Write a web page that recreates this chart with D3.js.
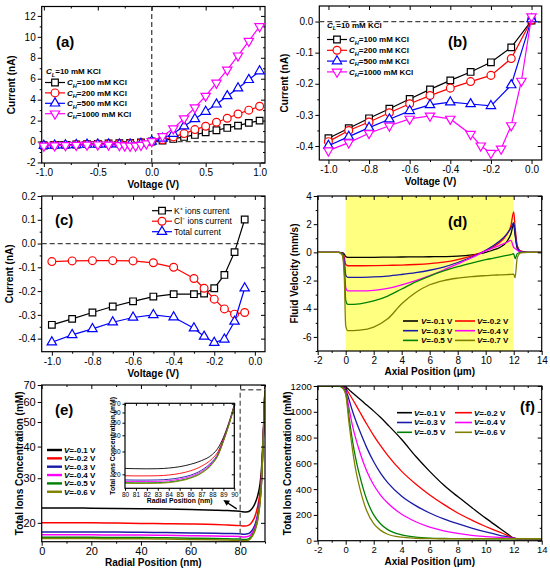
<!DOCTYPE html>
<html>
<head>
<meta charset="utf-8">
<script src="https://cdn.jsdelivr.net/npm/d3@7"></script>
<style>
  body { margin: 0; background: #fff; }
</style>
</head>
<body>
<svg id="fig" width="550" height="571"></svg>
<script>
// ---------------- data ----------------
// (a)/(b) I-V curves, CL = 10 mM KCl
const voltAB = [-1.0,-0.9,-0.8,-0.7,-0.6,-0.5,-0.4,-0.3,-0.2,-0.1,0.0,0.1,0.2,0.3,0.4,0.5,0.6,0.7,0.8,0.9,1.0];
const voltAB1000 = [-1.0,-0.9,-0.8,-0.7,-0.6,-0.5,-0.4,-0.3,-0.25,-0.2,-0.15,-0.1,-0.05,0.0,0.1,0.2,0.3,0.4,0.5,0.6,0.7,0.8,0.9,1.0];
const curCH100 = [-0.375,-0.343,-0.311,-0.28,-0.249,-0.218,-0.189,-0.162,-0.131,-0.083,0.003,0.1,0.25,0.44,0.63,0.89,1.08,1.3,1.52,1.78,2.0];
const curCH200 = [-0.386,-0.35,-0.323,-0.293,-0.264,-0.238,-0.214,-0.193,-0.173,-0.119,0.005,0.16,0.44,0.76,1.14,1.46,1.84,2.22,2.63,3.0,3.37];
const curCH500 = [-0.399,-0.37,-0.341,-0.314,-0.287,-0.268,-0.259,-0.265,-0.271,-0.204,0.008,0.29,0.76,1.46,2.16,2.86,3.56,4.35,5.1,5.9,6.73];
const curCH1000 = [-0.415,-0.389,-0.359,-0.335,-0.313,-0.303,-0.313,-0.362,-0.399,-0.423,-0.409,-0.334,-0.191,0.016,0.5,1.24,2.2,3.24,4.35,5.6,6.85,8.2,9.6,11.0];
const chLabels = ['100', '200', '500', '1000'];

// (c) ionic current components, CH = 1000 mM
const voltC = [-1.0,-0.9,-0.8,-0.7,-0.6,-0.5,-0.4,-0.3,-0.25,-0.2,-0.15,-0.1,-0.05];
const curK = [-0.342,-0.317,-0.29,-0.265,-0.243,-0.223,-0.213,-0.213,-0.21,-0.188,-0.132,-0.036,0.101];
const curCl = [-0.076,-0.073,-0.072,-0.072,-0.073,-0.081,-0.1,-0.147,-0.188,-0.234,-0.275,-0.297,-0.29];
const curTotal = [-0.415,-0.384,-0.359,-0.331,-0.311,-0.3,-0.31,-0.356,-0.391,-0.417,-0.403,-0.328,-0.188];
const ionLabels = ['K\u207A ions current', 'Cl\u207B ions current', 'Total current'];

// (d) fluid velocity along the axis
const posD = [-2,-0.5,-0.25,-0.1,0,0.15,1,2,3,4,5,6,7,8,9,10,10.5,11,11.5,11.8,12,12.1,12.25,12.5,13,14];
const velV01 = [0,0,-0.02,-0.12,-0.3,-0.35,-0.35,-0.35,-0.34,-0.33,-0.32,-0.31,-0.3,-0.27,-0.18,0.0,0.15,0.35,0.75,1.3,2.0,1.2,0.3,0.05,0,0];
const velV02 = [0,0,-0.05,-0.35,-0.85,-0.95,-0.95,-0.94,-0.92,-0.9,-0.86,-0.8,-0.7,-0.52,-0.25,0.12,0.38,0.7,1.25,1.9,2.88,1.8,0.5,0.1,0,0];
const velV03 = [0,0,-0.08,-0.6,-1.6,-1.77,-1.77,-1.74,-1.68,-1.57,-1.44,-1.27,-1.04,-0.72,-0.33,0.15,0.45,0.8,1.3,1.72,2.1,1.4,0.4,0.05,0,0];
const velV04 = [0,0,-0.1,-0.9,-2.5,-2.74,-2.74,-2.7,-2.55,-2.3,-2.0,-1.65,-1.25,-0.82,-0.38,0.1,0.3,0.5,0.7,0.85,0.35,0.28,0.15,0.02,0,0];
const velV05 = [0,0,-0.12,-1.2,-3.4,-3.69,-3.65,-3.45,-3.1,-2.6,-2.1,-1.68,-1.32,-1.02,-0.76,-0.52,-0.42,-0.32,-0.22,-0.16,-0.1,-0.45,-0.1,0,0,0];
const velV07 = [0,0,-0.2,-1.8,-5.2,-5.56,-5.52,-5.3,-4.72,-3.65,-2.85,-2.3,-2.0,-1.83,-1.72,-1.65,-1.62,-1.6,-1.58,-1.56,-1.55,-1.8,-0.4,-0.03,0,0];
const voltLabelsD = ['-0.1', '-0.2', '-0.3', '-0.4', '-0.5', '-0.7'];

// (e) radial total ion concentration (log axis)
const posE = [0,10,20,30,40,50,60,70,75,80,81,82,83,84,85,86,87,88,88.5,89,89.5,90];
const concEV01 = [22.9,22.9,22.85,22.8,22.75,22.7,22.6,22.45,22.35,22.2,22.1,22.05,22.1,22.35,22.9,23.9,25.5,28.5,31.8,38.5,50,69];
const concEV02 = [20.0,20.0,20.0,19.95,19.9,19.85,19.8,19.7,19.6,19.5,19.45,19.45,19.5,19.75,20.3,21.3,23.1,26.5,29.8,37.5,49,68];
const concEV03 = [18.4,18.4,18.4,18.4,18.35,18.3,18.25,18.2,18.15,18.1,18.05,18.05,18.1,18.3,18.8,19.7,21.5,25.2,28.7,36.6,48.5,67.5];
const concEV04 = [17.95,17.95,17.95,17.9,17.9,17.85,17.8,17.75,17.7,17.65,17.6,17.6,17.65,17.85,18.35,19.25,21.0,24.7,28.3,36.3,48.2,67.3];
const concEV05 = [17.55,17.55,17.55,17.5,17.5,17.45,17.4,17.35,17.3,17.25,17.2,17.2,17.25,17.45,17.95,18.85,20.6,24.3,28.0,36.0,48,67];
const concEV06 = [17.35,17.35,17.35,17.3,17.3,17.25,17.2,17.15,17.1,17.05,17.0,17.0,17.05,17.25,17.75,18.65,20.4,24.1,27.8,35.8,47.8,67];
const voltLabelsEF = ['-0.1', '-0.2', '-0.3', '-0.4', '-0.5', '-0.6'];

// (f) axial total ion concentration
const posF = [-2,-0.5,-0.2,0,0.25,0.5,0.75,1,1.5,2,2.5,3,4,5,6,7,8,9,10,11,11.5,12,12.3,13,14];
const concFV01 = [1200,1200,1198,1192,1170,1145,1122,1100,1052,1005,955,900,785,655,538,432,342,258,175,97,58,20,15,15,15];
const concFV02 = [1200,1200,1196,1182,1140,1095,1048,1000,905,815,735,662,538,440,355,282,215,160,110,66,44,22,15,15,15];
const concFV03 = [1200,1200,1194,1170,1090,1000,922,852,722,612,522,450,345,272,215,170,132,98,68,42,31,20,15,15,15];
const concFV04 = [1200,1200,1190,1160,1020,885,780,690,540,432,352,292,205,147,106,77,56,41,32,25,22,18,15,15,15];
const concFV05 = [1200,1200,1185,1145,950,765,620,505,320,200,130,86,45,28,20,17,16,15,15,15,15,15,15,15,15];
const concFV06 = [1200,1200,1180,1135,900,695,530,410,232,132,80,50,27,19,16,15,15,15,15,15,15,15,15,15,15];

// ---------------- style ----------------
const FONT = '"Liberation Sans", Arial, Helvetica, sans-serif';
const COL = { black: '#000000', red: '#ff0000', blue: '#0000ff', navy: '#1a1aa8',
              magenta: '#ff00ff', green: '#008000', olive: '#808000' };
const fmt1 = d => d.toFixed(1);
const fmt0 = d => String(d);

const svg = d3.select('#fig').attr('font-family', FONT);

// ---------------- helpers ----------------
function panel(o) {
  const x = d3.scaleLinear().domain(o.xDom).range([o.left, o.right]);
  const y = (o.yLog ? d3.scaleLog() : d3.scaleLinear()).domain(o.yDom).range([o.bottom, o.top]);
  const root = svg.append('g');
  const cid = 'clip-' + o.name;
  root.append('clipPath').attr('id', cid).append('rect')
    .attr('x', o.left).attr('y', o.top)
    .attr('width', o.right - o.left).attr('height', o.bottom - o.top);
  const bg = root.append('g');
  if (o.white) bg.append('rect').attr('x', o.left).attr('y', o.top)
    .attr('width', o.right - o.left).attr('height', o.bottom - o.top).attr('fill', '#fff');
  const data = root.append('g').attr('clip-path', `url(#${cid})`);
  const axes = root.append('g');
  const over = root.append('g');
  const ts = o.tick || 4, fs = o.font || 10;
  const blank = () => '';
  const mk = (gen, tr) => axes.append('g').attr('transform', tr).call(gen)
    .call(s => s.select('.domain').remove());

  mk(d3.axisBottom(x).tickValues(o.xTicks).tickSize(ts).tickSizeOuter(0).tickPadding(2).tickFormat(o.xFmt || fmt0), `translate(0,${o.bottom})`);
  mk(d3.axisTop(x).tickValues(o.xTicks).tickSize(-ts).tickSizeOuter(0).tickFormat(blank), `translate(0,${o.top})`);
  mk(d3.axisLeft(y).tickValues(o.yTicks).tickSize(ts).tickSizeOuter(0).tickPadding(2).tickFormat(o.yFmt || fmt0), `translate(${o.left},0)`);
  mk(d3.axisRight(y).tickValues(o.yTicks).tickSize(-ts).tickSizeOuter(0).tickFormat(blank), `translate(${o.right},0)`);
  if (o.xMinor) {
    mk(d3.axisBottom(x).tickValues(o.xMinor).tickSize(ts / 2).tickSizeOuter(0).tickFormat(blank), `translate(0,${o.bottom})`);
    mk(d3.axisTop(x).tickValues(o.xMinor).tickSize(-ts / 2).tickSizeOuter(0).tickFormat(blank), `translate(0,${o.top})`);
  }
  if (o.yMinor) {
    mk(d3.axisLeft(y).tickValues(o.yMinor).tickSize(ts / 2).tickSizeOuter(0).tickFormat(blank), `translate(${o.left},0)`);
    mk(d3.axisRight(y).tickValues(o.yMinor).tickSize(-ts / 2).tickSizeOuter(0).tickFormat(blank), `translate(${o.right},0)`);
  }
  axes.selectAll('text').attr('font-size', fs).attr('font-family', FONT).attr('fill', '#000');
  axes.selectAll('line').attr('stroke', '#000').attr('stroke-width', 1);

  axes.append('rect').attr('x', o.left).attr('y', o.top)
    .attr('width', o.right - o.left).attr('height', o.bottom - o.top)
    .attr('fill', 'none').attr('stroke', '#000').attr('stroke-width', 1.2);

  const tf = o.titleFont || 10;
  axes.append('text').attr('x', (o.left + o.right) / 2).attr('y', o.bottom + o.xTitleDy)
    .attr('text-anchor', 'middle').attr('font-size', tf).attr('font-weight', 'bold').text(o.xTitle);
  axes.append('text')
    .attr('transform', `translate(${o.left - o.yTitleDx},${(o.top + o.bottom) / 2}) rotate(-90)`)
    .attr('text-anchor', 'middle').attr('dy', '0.35em').attr('font-size', tf).attr('font-weight', 'bold').text(o.yTitle);
  if (o.tag) over.append('text').attr('x', o.tag[0]).attr('y', o.tag[1])
    .attr('font-size', 15).attr('font-weight', 'bold').text(o.tag[2]);
  return { x, y, bg, data, over };
}

function marker(g, type, cx, cy, color) {
  const kinds = { square: [d3.symbolSquare, 44], circle: [d3.symbolCircle, 48],
                  up: [d3.symbolTriangle, 38], down: [d3.symbolTriangle, 38] };
  const [t, s] = kinds[type];
  g.append('path').attr('d', d3.symbol().type(t).size(s)())
    .attr('transform', `translate(${cx},${cy})${type === 'down' ? ' rotate(180)' : ''}`)
    .attr('fill', '#fff').attr('stroke', color).attr('stroke-width', 1.2);
}

function series(p, xs, ys, color, type, filter) {
  let pts = d3.zip(xs, ys);
  if (filter) pts = pts.filter(filter);
  p.over.append('path').datum(pts)
    .attr('d', d3.line().x(d => p.x(d[0])).y(d => p.y(d[1])))
    .attr('fill', 'none').attr('stroke', color).attr('stroke-width', 1.2);
  pts.forEach(d => marker(p.over, type, p.x(d[0]), p.y(d[1]), color));
}

function curve(p, xs, ys, color, w) {
  p.data.append('path').datum(d3.zip(xs, ys))
    .attr('d', d3.line().curve(d3.curveMonotoneX).x(d => p.x(d[0])).y(d => p.y(d[1])))
    .attr('fill', 'none').attr('stroke', color).attr('stroke-width', w || 1.3);
}

// text with italic symbol + optional subscript
function richText(g, x, y, sym, sub, rest, fs) {
  const t = g.append('text').attr('x', x).attr('y', y).attr('font-size', fs)
    .attr('font-weight', 'bold').attr('dy', '0.35em');
  t.append('tspan').attr('font-style', 'italic').text(sym);
  if (sub) {
    t.append('tspan').attr('font-style', 'italic').attr('font-size', fs * 0.7).attr('dy', fs * 0.3).text(sub);
    t.append('tspan').attr('dy', -fs * 0.3).text(rest);
  } else {
    t.append('tspan').text(rest);
  }
  return t;
}

function legendLine(g, x1, x2, y, color, w, type) {
  g.append('line').attr('x1', x1).attr('x2', x2).attr('y1', y).attr('y2', y)
    .attr('stroke', color).attr('stroke-width', w);
  if (type) marker(g, type, (x1 + x2) / 2, y, color);
}

function zeroLine(p, horiz) {
  const [x0, x1] = p.x.domain(), [y0, y1] = p.y.domain();
  const l = p.over.append('line').attr('stroke', '#444').attr('stroke-width', 1.3).attr('stroke-dasharray', '5,3');
  if (horiz) l.attr('x1', p.x(x0)).attr('x2', p.x(x1)).attr('y1', p.y(0)).attr('y2', p.y(0));
  else l.attr('x1', p.x(0)).attr('x2', p.x(0)).attr('y1', p.y(y0)).attr('y2', p.y(y1));
}

const chSeries = [
  [voltAB, curCH100, COL.black, 'square'],
  [voltAB, curCH200, COL.red, 'circle'],
  [voltAB, curCH500, COL.blue, 'up'],
  [voltAB1000, curCH1000, COL.magenta, 'down']
];

// ---------------- (a) ----------------
const pa = panel({
  name: 'a', left: 41.7, right: 265, top: 6.5, bottom: 163,
  xDom: [-1.02, 1.05], yDom: [-2.05, 12.9],
  xTicks: [-1, -0.5, 0, 0.5, 1], xMinor: [-0.75, -0.25, 0.25, 0.75], xFmt: fmt1,
  yTicks: [-2, 0, 2, 4, 6, 8, 10, 12], yMinor: [-1, 1, 3, 5, 7, 9, 11],
  xTitle: 'Voltage (V)', yTitle: 'Current (nA)', xTitleDy: 25, yTitleDx: 30,
  tag: [56, 47, '(a)']
});
zeroLine(pa, true); zeroLine(pa, false);
chSeries.forEach(s => series(pa, s[0], s[1], s[2], s[3]));
richText(pa.over, 46, 71.5, 'C', 'L', '=10 mM KCl', 8);
chSeries.forEach((s, i) => {
  const yy = 82.5 + i * 10.4;
  legendLine(pa.over, 45, 65, yy, s[2], 1.2, s[3]);
  richText(pa.over, 67, yy, 'C', 'H', `=${chLabels[i]} mM KCl`, 8);
});

// ---------------- (b) ----------------
const pb = panel({
  name: 'b', left: 319.3, right: 541.7, top: 6, bottom: 160,
  xDom: [-1.045, 0.05], yDom: [-0.445, 0.05],
  xTicks: [-1, -0.8, -0.6, -0.4, -0.2, 0], xMinor: [-0.9, -0.7, -0.5, -0.3, -0.1], xFmt: fmt1,
  yTicks: [-0.4, -0.3, -0.2, -0.1, 0], yMinor: [-0.35, -0.25, -0.15, -0.05], yFmt: fmt1,
  xTitle: 'Voltage (V)', yTitle: 'Current (nA)', xTitleDy: 25, yTitleDx: 35,
  tag: [448, 47, '(b)']
});
zeroLine(pb, true);
chSeries.forEach(s => series(pb, s[0], s[1], s[2], s[3], d => d[0] <= 0.001));
richText(pb.over, 327, 25, 'C', 'L', '=10 mM KCl', 8);
chSeries.forEach((s, i) => {
  const yy = 39.5 + i * 10.8;
  legendLine(pb.over, 327, 347, yy, s[2], 1.2, s[3]);
  richText(pb.over, 349, yy, 'C', 'H', `=${chLabels[i]} mM KCl`, 8);
});

// ---------------- (c) ----------------
const pc = panel({
  name: 'c', left: 41.7, right: 265, top: 196, bottom: 351.7,
  xDom: [-1.05, 0.05], yDom: [-0.455, 0.2],
  xTicks: [-1, -0.8, -0.6, -0.4, -0.2, 0], xMinor: [-0.9, -0.7, -0.5, -0.3, -0.1], xFmt: fmt1,
  yTicks: [-0.4, -0.3, -0.2, -0.1, 0, 0.1, 0.2], yMinor: [-0.35, -0.25, -0.15, -0.05, 0.05, 0.15], yFmt: fmt1,
  xTitle: 'Voltage (V)', yTitle: 'Current (nA)', xTitleDy: 25, yTitleDx: 32,
  tag: [55, 225, '(c)']
});
zeroLine(pc, true);
const ionSeries = [[curK, COL.black, 'square'], [curCl, COL.red, 'circle'], [curTotal, COL.blue, 'up']];
ionSeries.forEach(s => series(pc, voltC, s[0], s[1], s[2]));
ionSeries.forEach((s, i) => {
  const yy = 210.7 + i * 10.5;
  legendLine(pc.over, 152, 172, yy, s[1], 1.2, s[2]);
  pc.over.append('text').attr('x', 174).attr('y', yy).attr('dy', '0.35em')
    .attr('font-size', 8.5).text(ionLabels[i]);
});

// ---------------- (d) ----------------
const pd = panel({
  name: 'd', left: 317.7, right: 541.7, top: 196, bottom: 351,
  xDom: [-2, 14], yDom: [-7, 4],
  xTicks: [-2, 0, 2, 4, 6, 8, 10, 12, 14], xMinor: [-1, 1, 3, 5, 7, 9, 11, 13],
  yTicks: [-6, -4, -2, 0, 2, 4], yMinor: [-7, -5, -3, -1, 1, 3],
  xTitle: 'Axial Position (\u03BCm)', yTitle: 'Fluid Velocity (mm/s)', xTitleDy: 24, yTitleDx: 23,
  tag: [448, 227, '(d)']
});
pd.bg.append('rect').attr('x', pd.x(0)).attr('width', pd.x(12) - pd.x(0))
  .attr('y', pd.y(4)).attr('height', pd.y(-7) - pd.y(4)).attr('fill', '#ffff80');
const velSeries = [[velV01, COL.black], [velV02, COL.red], [velV03, COL.navy],
                   [velV04, COL.magenta], [velV05, COL.green], [velV07, COL.olive]];
velSeries.forEach(s => curve(pd, posD, s[0], s[1]));
velSeries.forEach((s, i) => {
  const col = i % 2, row = Math.floor(i / 2);
  const yy = 321 + row * 9.7;
  const lx = col ? 455 : 403;
  legendLine(pd.over, lx, lx + (col ? 20 : 15), yy, s[1], 1.6);
  richText(pd.over, lx + (col ? 22 : 18), yy, 'V', null, `=${voltLabelsD[i]} V`, 8);
});

// ---------------- (e) ----------------
const pe = panel({
  name: 'e', left: 41.7, right: 265, top: 385, bottom: 541.7,
  xDom: [0, 90], yDom: [16.85, 70], yLog: true,
  xTicks: [0, 20, 40, 60, 80], xMinor: [10, 30, 50, 70, 90],
  yTicks: [20, 30, 40, 50, 60, 70],
  xTitle: 'Radial Position (nm)', yTitle: 'Total Ions Concentration (mM)', xTitleDy: 24, yTitleDx: 22,
  font: 11, tag: [55, 415, '(e)']
});
const concESeries = [[concEV01, COL.black], [concEV02, COL.red], [concEV03, COL.navy],
                     [concEV04, COL.magenta], [concEV05, COL.green], [concEV06, COL.olive]];
concESeries.forEach(s => curve(pe, posE, s[0], s[1], 1.5));
concESeries.forEach((s, i) => {
  const yy = 450 + i * 8.35;
  legendLine(pe.over, 47, 62, yy, s[1], 2.4);
  richText(pe.over, 64, yy, 'V', null, `=${voltLabelsEF[i]} V`, 8);
});
// zoom box and arrow
const boxTop = 67;
pe.over.append('path')
  .attr('d', `M${pe.x(80)},${pe.y(16.85)}V${pe.y(boxTop)}H${pe.x(90)}`)
  .attr('fill', 'none').attr('stroke', '#666').attr('stroke-width', 1.4).attr('stroke-dasharray', '5,3');
const arrowHead = [73.2, 24.6], arrowTail = [78.6, 22.7];
{
  const hx = pe.x(arrowHead[0]), hy = pe.y(arrowHead[1]);
  const tx = pe.x(arrowTail[0]), ty = pe.y(arrowTail[1]);
  const ang = Math.atan2(hy - ty, hx - tx);
  pe.over.append('line').attr('x1', tx).attr('y1', ty)
    .attr('x2', hx - 4 * Math.cos(ang)).attr('y2', hy - 4 * Math.sin(ang))
    .attr('stroke', '#000').attr('stroke-width', 1.3);
  const L = 6, W = 3;
  const pts = [[hx, hy],
    [hx - L * Math.cos(ang) + W * Math.sin(ang), hy - L * Math.sin(ang) - W * Math.cos(ang)],
    [hx - L * Math.cos(ang) - W * Math.sin(ang), hy - L * Math.sin(ang) + W * Math.cos(ang)]];
  pe.over.append('polygon').attr('points', pts.map(p => p.join(',')).join(' ')).attr('fill', '#000');
}

// inset of (e)
const pi = panel({
  name: 'einset', left: 125, right: 234.3, top: 403.3, bottom: 488.3, white: true,
  xDom: [80, 90], yDom: [15.6, 70.6], yLog: true,
  xTicks: [80, 81, 82, 83, 84, 85, 86, 87, 88, 89, 90],
  yTicks: [20, 30, 40, 50, 60, 70],
  xTitle: 'Radial Position (nm)', yTitle: 'Total Ions Concentration (mM)', xTitleDy: 15, yTitleDx: 12,
  font: 6.5, tick: 2.5, titleFont: 6.8
});
concESeries.forEach(s => curve(pi, posE, s[0], s[1], 0.9));

// ---------------- (f) ----------------
const pf = panel({
  name: 'f', left: 317.7, right: 541.7, top: 386, bottom: 540.7,
  xDom: [-2, 14], yDom: [0, 1200],
  xTicks: [-2, 0, 2, 4, 6, 8, 10, 12, 14], xMinor: [-1, 1, 3, 5, 7, 9, 11, 13],
  yTicks: [0, 200, 400, 600, 800, 1000, 1200], yMinor: [100, 300, 500, 700, 900, 1100],
  xTitle: 'Axial Position (\u03BCm)', yTitle: 'Total Ions Concentration (mM)', xTitleDy: 24, yTitleDx: 30,
  font: 9.5, tag: [520, 412, '(f)']
});
const concFSeries = [[concFV01, COL.black], [concFV02, COL.red], [concFV03, COL.navy],
                     [concFV04, COL.magenta], [concFV05, COL.green], [concFV06, COL.olive]];
concFSeries.forEach(s => curve(pf, posF, s[0], s[1]));
concFSeries.forEach((s, i) => {
  const col = i % 2, row = Math.floor(i / 2);
  const yy = 412.7 + row * 9.8;
  const lx = col ? 455 : 397;
  legendLine(pf.over, lx, lx + (col ? 17 : 15), yy, s[1], 1.6);
  richText(pf.over, lx + (col ? 19 : 17), yy, 'V', null, `=${voltLabelsEF[i]} V`, 8);
});
</script>
</body>
</html>
